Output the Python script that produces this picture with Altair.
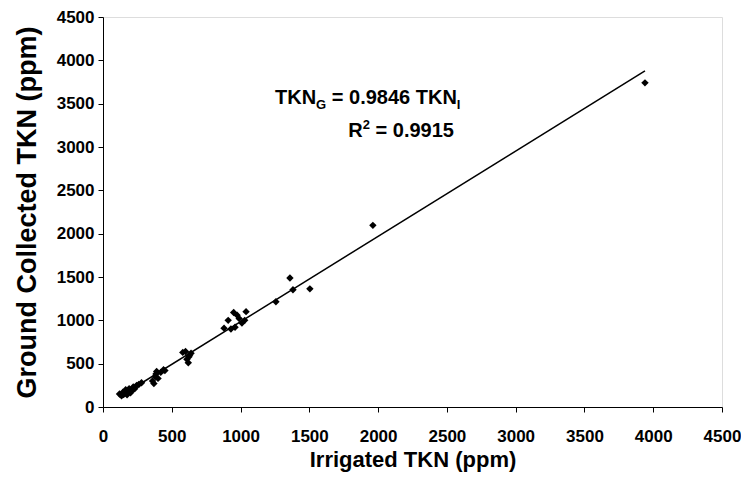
import altair as alt
import pandas as pd

# Data
irrigated = [120, 135, 145, 150, 160, 165, 175, 185, 190, 200, 210, 220, 230, 245, 260, 280,
             360, 370, 380, 385, 390, 400, 420, 440, 450,
             580, 600, 610, 620, 630, 640, 625,
             880, 910, 930, 950, 960, 975, 990, 1010, 1040, 1030,
             1257, 1359, 1381, 1504, 1962, 3940]
ground = [150, 130, 170, 145, 160, 200, 140, 175, 210, 165, 190, 230, 210, 250, 260, 280,
          300, 270, 350, 380, 410, 330, 400, 430, 420,
          630, 640, 550, 510, 600, 620, 580,
          910, 1000, 900, 1090, 920, 1060, 1020, 970, 1100, 1000,
          1214, 1489, 1352, 1363, 2096, 3740]
slope = 0.9846
tick_values = [0, 500, 1000, 1500, 2000, 2500, 3000, 3500, 4000, 4500]

df = pd.DataFrame({"x": irrigated, "y": ground})
xmin, xmax = min(irrigated), max(irrigated)
line_df = pd.DataFrame({"x": [xmin, xmax], "y": [slope * xmin, slope * xmax]})

FONT = "Liberation Sans"
W, H = 619, 390

xs = alt.Scale(domain=[0, 4500], nice=False, zero=False)
ys = alt.Scale(domain=[0, 4500], nice=False, zero=False)

xaxis = alt.Axis(values=tick_values, format="d", title="Irrigated TKN (ppm)", grid=False,
                 domainColor="black", tickColor="black", tickSize=5,
                 labelFont=FONT, labelFontSize=17, labelFontWeight="bold", labelColor="black",
                 labelPadding=16, labelFlush=False,
                 titleFont=FONT, titleFontSize=22, titleFontWeight="bold", titleColor="black",
                 titlePadding=5)
yaxis = alt.Axis(values=tick_values, format="d", title="Ground Collected TKN (ppm)", grid=False,
                 domainColor="black", tickColor="black", tickSize=5,
                 labelFont=FONT, labelFontSize=17, labelFontWeight="bold", labelColor="black",
                 labelPadding=4, labelFlush=False,
                 titleFont=FONT, titleFontSize=27, titleFontWeight="bold", titleColor="black",
                 titlePadding=15)

points = alt.Chart(df).mark_point(shape="diamond", filled=True, color="black", size=55, opacity=1).encode(
    x=alt.X("x:Q", scale=xs, axis=xaxis),
    y=alt.Y("y:Q", scale=ys, axis=yaxis),
)
fit = alt.Chart(line_df).mark_line(color="black", strokeWidth=1.5).encode(
    x=alt.X("x:Q", scale=xs),
    y=alt.Y("y:Q", scale=ys),
)

# Annotation (equation), built from segments for subscripts/superscript
big, small = 20, 13
def w(units, size):
    return units * size / 1000.0

segs = []
x0, yb1 = 172, 87
segs.append(("TKN", x0, yb1, big, "left"))
x1 = x0 + w(2055, big)
segs.append(("G", x1, yb1 + 5, small, "left"))
x2 = x1 + w(778, small) + w(278, big)
segs.append(("= 0.9846 TKN", x2, yb1, big, "left"))
x3 = x2 + w(6253, big)
segs.append(("I", x3, yb1 + 5, small, "left"))
yb2 = 120
xr = 351
segs.append(("= 0.9915", xr, yb2, big, "right"))
x5 = xr - w(4198 - 278, big) - w(278, big) - w(556, small)
segs.append(("2", x5, yb2 - 8, small, "left"))
x4 = x5 - w(722, big)
segs.append(("R", x4, yb2, big, "left"))

texts = []
for t, tx, ty, fs, al in segs:
    texts.append(
        alt.Chart(pd.DataFrame({"t": [t]})).mark_text(
            align=al, baseline="alphabetic", font=FONT, fontWeight="bold",
            fontSize=fs, color="black"
        ).encode(text="t:N", x=alt.value(tx), y=alt.value(ty))
    )

chart = alt.layer(fit, points, *texts).properties(
    width=W, height=H,
    autosize=alt.AutoSizeParams(type="none"),
    padding={"left": 95, "top": 9, "right": 19, "bottom": 76},
).configure_view(stroke="black", strokeWidth=1).configure(background="white")

chart.save("out.html", embed_options={"renderer": "svg", "actions": False})
